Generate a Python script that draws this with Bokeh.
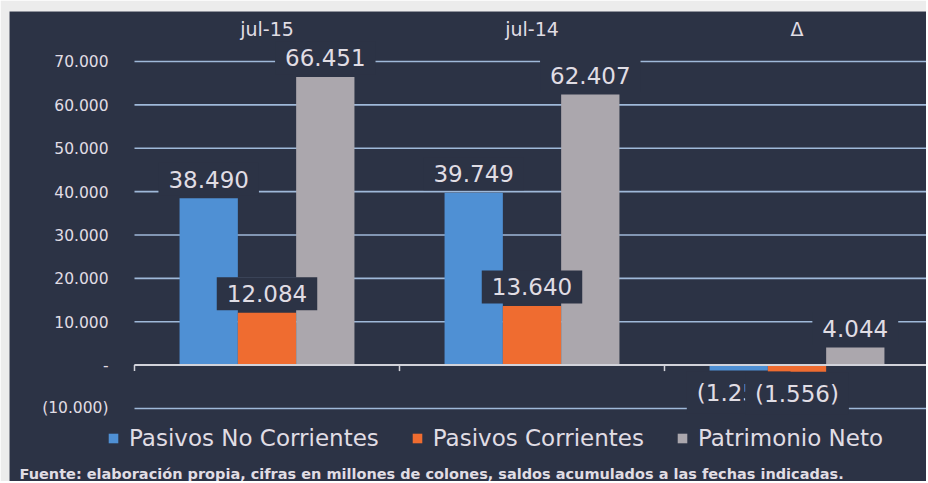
import math
from bokeh.plotting import figure
from bokeh.models import Legend, LegendItem, Label, Range1d
from bokeh.core.properties import value
from bokeh.embed import file_html
from bokeh.resources import INLINE

# ---- data ----
categories = ["jul-15", "jul-14", "Δ"]
series_names = ["Pasivos No Corrientes", "Pasivos Corrientes", "Patrimonio Neto"]
pasivos_no_corrientes = [38490, 39749, -1259]
pasivos_corrientes = [12084, 13640, -1556]
patrimonio_neto = [66451, 62407, 4044]
y_ticks = [-10000, 0, 10000, 20000, 30000, 40000, 50000, 60000, 70000]
y_tick_labels = ["(10.000)", "-", "10.000", "20.000", "30.000", "40.000", "50.000", "60.000", "70.000"]
footer_text = "Fuente: elaboración propia, cifras en millones de colones, saldos acumulados a las fechas indicadas."

# ---- style ----
BG = "#2c3345"
PAPER = "#ececec"
TXT = "#e0dde4"
GRID = "#9fb9d9"
ZERO = "#d2d3da"
COLORS = ["#4f90d4", "#ef6c30", "#aba7ad"]
FONT = "DejaVu Sans"


def fmt(v):
    s = f"{abs(v):,}".replace(",", ".")
    return f"({s})" if v < 0 else s


n = len(categories)
p = figure(width=926, height=481, output_backend="svg", toolbar_location=None,
           x_axis_location=None, y_axis_location=None,
           x_range=Range1d(-0.4717, n - 0.0113),
           y_range=Range1d(-26835, 81527))
p.min_border_left = 9
p.min_border_right = 0
p.min_border_top = 11
p.min_border_bottom = 0
p.background_fill_color = BG
p.border_fill_color = PAPER
p.outline_line_color = None
p.grid.visible = False

centers = [i + 0.5 for i in range(n)]

# horizontal grid lines over the category area
p.segment(x0=[0] * len(y_ticks), x1=[n] * len(y_ticks), y0=y_ticks, y1=y_ticks,
          line_color=GRID, line_width=1.6)

# y tick labels
p.text(x=[0] * len(y_ticks), y=y_ticks, text=y_tick_labels, x_offset=-26,
       text_align="right", text_baseline="middle", text_color=TXT,
       text_font=value(FONT), text_font_size="15.5px")

# category labels at the top
p.text(x=centers, y=[p.y_range.end] * n, text=categories, y_offset=17,
       text_align="center", text_baseline="middle", text_color=TXT,
       text_font=value(FONT), text_font_size="19px")

# bars
bw = 0.22
offsets = [-bw, 0.0, bw]
all_series = [pasivos_no_corrientes, pasivos_corrientes, patrimonio_neto]
items = []
for vals, off, col, name in zip(all_series, offsets, COLORS, series_names):
    xs = [c + off for c in centers]
    r = p.vbar(x=xs, top=vals, bottom=0, width=bw, fill_color=col, line_color=None)
    items.append(LegendItem(label=name, renderers=[r]))

# zero line and category boundary ticks
p.segment(x0=[0], x1=[n], y0=[0], y1=[0], line_color=ZERO, line_width=2)
p.ray(x=list(range(n)), y=[0] * n, length=6, length_units="screen",
      angle=-math.pi / 2, line_color=ZERO, line_width=1.5)

# data labels
for vals, off in zip(all_series, offsets):
    xs = [c + off for c in centers]
    p.text(x=xs, y=vals, text=[fmt(v) for v in vals],
           y_offset=[-19 if v >= 0 else 22 for v in vals],
           text_align="center", text_baseline="middle",
           text_color=TXT, text_font=value(FONT), text_font_size="23px",
           background_fill_color=BG, padding=(10, 8))

# legend (inside the dark panel, under the bars)
legend = Legend(items=items, orientation="horizontal", location=(98, 30),
                label_text_font=FONT, label_text_font_size="23px",
                label_text_color=TXT, glyph_width=12, glyph_height=12,
                label_standoff=10, spacing=32, padding=0, margin=0,
                background_fill_alpha=0, border_line_color=None)
p.add_layout(legend)

footer = Label(x=10, y=8, x_units="screen", y_units="screen", text=footer_text,
               text_font=FONT, text_font_size="14.5px", text_font_style="bold",
               text_color=TXT, text_baseline="middle", text_align="left")
p.add_layout(footer)

open("out.html", "w").write(file_html(p, INLINE))
